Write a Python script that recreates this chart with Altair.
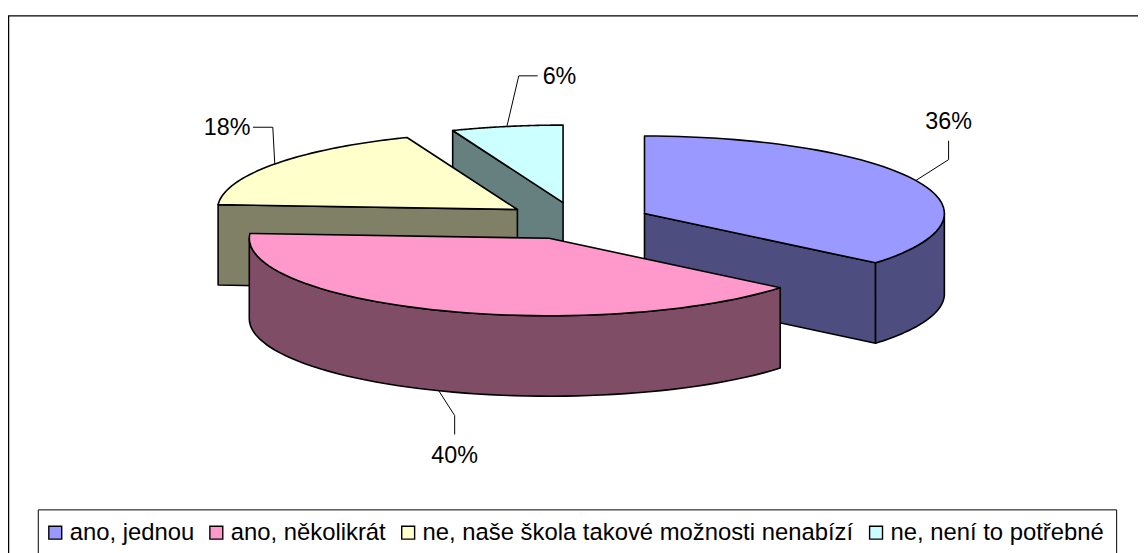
import numpy as np
import altair as alt

names = ["ano, jednou", "ano, několikrát", "ne, naše škola takové možnosti nenabízí", "ne, není to potřebné"]
values = [36, 40, 18, 6]
labels = ["36%", "40%", "18%", "6%"]
top_colors = ["#9999FF", "#FF99CC", "#FFFFCC", "#CCFFFF"]
side_colors = ["#4D4D80", "#804D66", "#808066", "#668080"]

# exploded slice apex positions (image pixels)
apex = [(649, 213), (553, 238), (521, 209), (567, 202)]
RX, RY, DEPTH = 302, 78, 81
# leader geometry relative to the rim point, and label centre relative to the last leader point
elbows = [[(33, -21), (33, -40)], [(16, 25), (16, 44)], [(-2, -37), (-22, -37)], [(12, -51), (31, -51)]]
label_off = [(0, -19), (0, 22), (-26, 1), (22, 1)]
draw_order = [3, 2, 0, 1]

fracs = np.array(values) / sum(values)
ends = np.cumsum(fracs) * 360
starts = ends - fracs * 360


def rim(i, a0, a1, dz=0, n=60):
    t = np.radians(np.linspace(a0, a1, n))
    cx, cy = apex[i]
    return [[float(cx + RX * np.sin(v)), float(cy - RY * np.cos(v) + dz)] for v in t]


def pt(i, a, dz=0):
    return rim(i, a, a, dz, 1)[0]


def feature(coords, key):
    return {"type": "Feature", "properties": {"k": key},
            "geometry": {"type": "Polygon", "coordinates": [coords + [coords[0]]]}}


features = []
for i in draw_order:
    c = [float(apex[i][0]), float(apex[i][1])]
    c2 = [c[0], c[1] + DEPTH]
    s, e = float(starts[i]), float(ends[i])
    shade = names[i] + " (side)"
    # cut faces that look towards the viewer
    if i == 0:
        p, q = pt(i, e), pt(i, e, DEPTH)
        features.append(feature([c, p, q, c2], shade))
        a0, a1 = 90.0, e
    elif i == 1:
        a0, a1 = s, 270.0
    else:
        p, q = pt(i, s), pt(i, s, DEPTH)
        features.append(feature([c, p, q, c2], shade))
        a0, a1 = s, s
    if a1 > a0:
        features.append(feature(rim(i, a0, a1) + rim(i, a1, a0, DEPTH), shade))
    features.append(feature([c] + rim(i, s, e), names[i]))

leaders = []
text_rows = []
for i in range(4):
    mid = float(starts[i] + ends[i]) / 2
    dz = DEPTH if i == 1 else 0
    p0 = pt(i, mid, dz)
    line = [p0] + [[p0[0] + dx, p0[1] + dy] for dx, dy in elbows[i]]
    leaders.append({"type": "Feature", "properties": {},
                    "geometry": {"type": "LineString", "coordinates": line}})
    text_rows.append({"label": labels[i],
                      "x": line[-1][0] + label_off[i][0] - 8,
                      "y": line[-1][1] + label_off[i][1] - 8})

proj = dict(type="identity", scale=1, translate=[-8, -8])
FONT = "Liberation Sans"

domain = names + [n + " (side)" for n in names]
rng = top_colors + side_colors

frame = alt.Chart(alt.Data(values=[{"a": 1}])).mark_rect(
    fill="white", stroke="black", strokeWidth=1.5
).encode(x=alt.value(0.5), x2=alt.value(1400), y=alt.value(6), y2=alt.value(900))

legend_box = alt.Chart(alt.Data(values=[{"a": 1}])).mark_rect(
    fill="white", stroke="black", strokeWidth=1
).encode(x=alt.value(30.5), x2=alt.value(1116.5), y=alt.value(503.5), y2=alt.value(900))

pie = alt.Chart(alt.Data(values=features)).mark_geoshape(
    stroke="black", strokeWidth=1.6, strokeJoin="round"
).encode(
    color=alt.Color(
        "properties.k:N",
        sort=None,
        scale=alt.Scale(domain=domain, range=rng),
        legend=alt.Legend(
            values=names, title=None, orient="none", legendX=35.6, legendY=514.5,
            direction="horizontal", columns=4, symbolType="square", symbolSize=169,
            symbolStrokeColor="black", symbolStrokeWidth=1.4, labelFont=FONT,
            labelFontSize=24, labelColor="black", labelLimit=600, labelOffset=2.5,
            columnPadding=10.2, padding=0, symbolOpacity=1, labelOverlap=False,
        ),
    )
).project(**proj)

lead = alt.Chart(alt.Data(values=leaders)).mark_geoshape(
    filled=False, stroke="black", strokeWidth=1
).project(**proj)

txt = alt.Chart(alt.Data(values=text_rows)).mark_text(
    font=FONT, fontSize=23.5, color="black", align="center", baseline="middle"
).encode(x=alt.X("x:Q", scale=None, axis=None), y=alt.Y("y:Q", scale=None, axis=None), text="label:N")

chart = alt.layer(frame, legend_box, lead, pie, txt).properties(
    width=1138, height=545, padding=0, background="white",
    autosize=alt.AutoSizeParams(type="none"),
).configure_view(stroke=None)

chart.save("out.html", embed_options={"renderer": "svg", "actions": False})
